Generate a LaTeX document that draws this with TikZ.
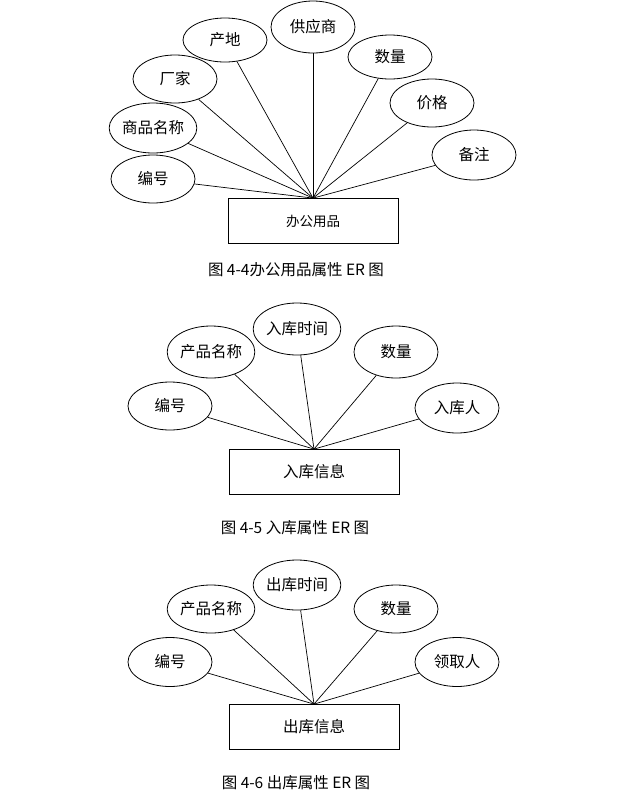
\documentclass[tikz,border=0pt]{standalone}
\usepackage{fontspec}
\setmainfont{Noto Sans CJK SC}
\usetikzlibrary{shapes.geometric}
\tikzset{
  attr/.style={draw, ellipse, line width=0.8pt, minimum width=84pt, minimum height=50pt, inner sep=0pt, font=\fontsize{15.5}{15.5}\selectfont},
  ent/.style={draw, rectangle, line width=0.8pt, minimum width=170pt, minimum height=45pt, inner sep=0pt, font=\fontsize{15.5}{15.5}\selectfont},
  link/.style={line width=0.7pt},
  captext/.style={font=\fontsize{15.5}{15.5}\selectfont, inner sep=0pt}
}
\begin{document}
\begin{tikzpicture}[x=1pt,y=-1pt]
\useasboundingbox (0,0) rectangle (619,812);
% Figure 4-4
\node[ent, font=\fontsize{13.5}{13.5}\selectfont] (b1) at (313,221) {办公用品};
\node[attr, minimum height=48pt] (a1) at (153,179) {编号};
\node[attr] (a2) at (153,128) {商品名称};
\node[attr, minimum height=48pt] (a3) at (175,79) {厂家};
\node[attr, minimum height=44pt] (a4) at (225,40) {产地};
\node[attr, minimum height=52pt] (a5) at (313,27) {供应商};
\node[attr, minimum height=44pt] (a6) at (390,57) {数量};
\node[attr, minimum height=48pt] (a7) at (432,103) {价格};
\node[attr] (a8) at (474,155) {备注};
\foreach \n in {a1,a2,a3,a4,a5,a6,a7,a8} \draw[link] (\n) -- (b1.north);
\node[captext] (c1) at (296,270) {图 4-4办公用品属性 ER 图};
% Figure 4-5
\node[ent] (b2) at (314,472) {入库信息};
\node[attr, minimum height=48pt] (d1) at (170,406) {编号};
\node[attr, minimum height=52pt] (d2) at (211,352) {产品名称};
\node[attr, minimum height=52pt] (d3) at (297,329) {入库时间};
\node[attr, minimum height=52pt] (d4) at (396,352) {数量};
\node[attr] (d5) at (457,408) {入库人};
\foreach \n in {d1,d2,d3,d4,d5} \draw[link] (\n) -- (b2.north);
\node[captext] (c2) at (295,528) {图 4-5 入库属性 ER 图};
% Figure 4-6
\node[ent] (b3) at (314,727) {出库信息};
\node[attr, minimum height=49pt] (e1) at (170,662) {编号};
\node[attr, minimum height=48pt] (e2) at (211,609) {产品名称};
\node[attr] (e3) at (297,585) {出库时间};
\node[attr, minimum height=48pt] (e4) at (396,609) {数量};
\node[attr, minimum height=49pt] (e5) at (457,662) {领取人};
\foreach \n in {e1,e2,e3,e4,e5} \draw[link] (\n) -- (b3.north);
\node[captext] (c3) at (296,783) {图 4-6 出库属性 ER 图};
\end{tikzpicture}
\end{document}
